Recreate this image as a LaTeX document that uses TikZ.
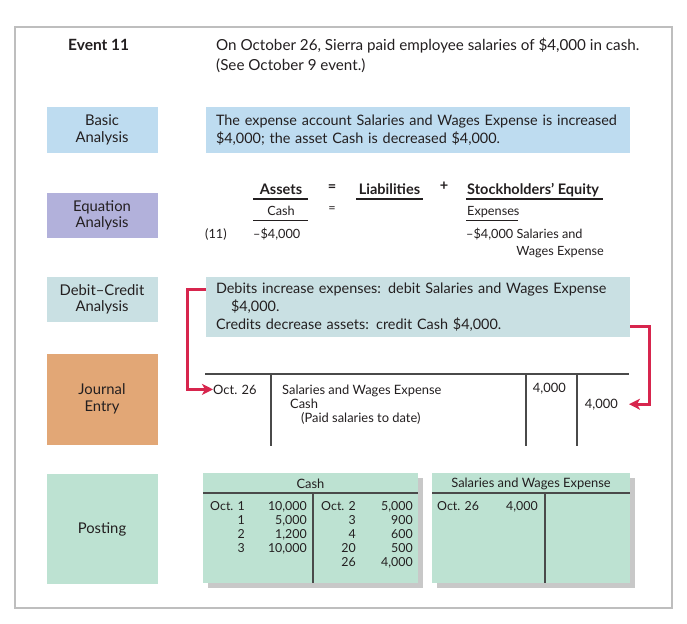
\documentclass[tikz,border=0pt]{standalone}
\usepackage{fontspec}
\setmainfont{Lato}
\usetikzlibrary{arrows.meta}

\definecolor{frameGray}{HTML}{BEBEBE}
\definecolor{basicBlue}{HTML}{BEDCF0}
\definecolor{eqPurple}{HTML}{B2B1DB}
\definecolor{dcTeal}{HTML}{C9E0E3}
\definecolor{jeOrange}{HTML}{E2A776}
\definecolor{postMint}{HTML}{BDE2D2}
\definecolor{arrowRed}{HTML}{D7254D}
\definecolor{ink}{HTML}{231F20}
\definecolor{ruleGray}{HTML}{4A4A4A}
\definecolor{shadowGray}{HTML}{C8C8C8}

\tikzset{
  stagebox/.style={minimum width=111pt, align=center, inner sep=0pt, text=ink,
    font=\fontsize{14.8}{16.5}\selectfont},
  textbox/.style={align=left, inner xsep=10pt, inner ysep=0pt, text=ink,
    text width=404pt, font=\fontsize{14.4}{18}\selectfont},
  bodytext/.style={inner sep=0pt, text=ink, font=\fontsize{15.2}{20}\selectfont},
  eqtext/.style={inner sep=0pt, text=ink, font=\fontsize{12.7}{16}\selectfont},
  eqbold/.style={inner sep=0pt, text=ink, font=\fontsize{14.5}{16}\selectfont\bfseries},
  jtext/.style={inner sep=0pt, text=ink, font=\fontsize{12.9}{14}\selectfont},
  ttext/.style={inner sep=0pt, text=ink, align=right, font=\fontsize{12.4}{14}\selectfont},
  ulrule/.style={draw=ink, line width=1.3pt},
  jrule/.style={draw=ruleGray, line width=1.1pt},
  trule/.style={draw=ruleGray, line width=1.6pt},
  redarrow/.style={draw=arrowRed, line width=3pt,
    -{Stealth[length=11pt, width=11pt, inset=3pt]}},
}

\begin{document}
\begin{tikzpicture}[x=1pt, y=-1pt]
\useasboundingbox (0,0) rectangle (687,623);
\fill[white] (0,0) rectangle (687,623);
% outer frame
\draw[frameGray, line width=1.5pt] (15,27) rectangle (672,608);

% header
\node[bodytext, font=\fontsize{15.5}{20}\selectfont\bfseries, anchor=base west] (event) at (68,51) {Event 11};
\node[bodytext, anchor=base west] (desc1) at (216,51) {On October 26, Sierra paid employee salaries of \$4,000 in cash.};
\node[bodytext, anchor=base west] (desc2) at (216,71) {(See October 9 event.)};

% basic analysis
\node[stagebox, fill=basicBlue, minimum height=46pt] (basicLbl) at (102,130) {Basic\\Analysis};
\node[textbox, fill=basicBlue, minimum height=46pt] (basicTxt) at (418,130)
  {The expense account Salaries and Wages Expense is increased\\\$4,000; the asset Cash is decreased \$4,000.};

% equation analysis
\node[stagebox, fill=eqPurple, minimum height=45pt] (eqLbl) at (102,215.5) {Equation\\Analysis};
\node[eqbold, anchor=base] (assets) at (281,194) {Assets};
\node[eqbold, anchor=base] (eq1) at (332,191) {=};
\node[eqbold, anchor=base] (liab) at (389.5,194) {Liabilities};
\node[eqbold, anchor=base] (plus) at (444,190) {+};
\node[eqbold, anchor=base west] (se) at (467,194) {Stockholders’ Equity};
\draw[ulrule] (253,199) -- (308,199);
\draw[ulrule] (356,199) -- (423,199);
\draw[ulrule] (466,199) -- (603,199);
\node[eqtext, anchor=base] (cash) at (281,215) {Cash};
\node[eqtext, anchor=base] (eq2) at (332,212) {=};
\node[eqtext, anchor=base west] (expenses) at (467,215) {Expenses};
\draw[ulrule] (253,220.5) -- (308,220.5);
\draw[ulrule] (466,220.5) -- (518,220.5);
\node[eqtext, anchor=base west] (evno) at (205,238) {(11)};
\node[eqtext, anchor=base west] (cashAmt) at (253,238) {–\$4,000};
\node[eqtext, anchor=base west] (expAmt) at (466,238) {–\$4,000 Salaries and};
\node[eqtext, anchor=base east] (expName) at (604,255) {Wages Expense};

% debit-credit analysis
\node[stagebox, fill=dcTeal, minimum height=45pt] (dcLbl) at (102,299.5) {Debit–Credit\\Analysis};
\node[textbox, fill=dcTeal, minimum height=60pt] (dcTxt) at (418,307)
  {Debits increase expenses: debit Salaries and Wages Expense\\
   \hspace*{15pt}\$4,000.\\
   Credits decrease assets: credit Cash \$4,000.};

% journal entry
\node[stagebox, fill=jeOrange, minimum height=91pt] (jeLbl) at (102,399) {Journal\\Entry};
\draw[jrule] (205,374) -- (629,374);
\draw[jrule] (271,374) -- (271,446);
\draw[jrule] (526,374) -- (526,446);
\draw[jrule] (577,374) -- (577,446);
\node[jtext, anchor=base west] (jdate) at (213,394) {Oct. 26};
\node[jtext, anchor=base west] (jdebitAcct) at (282,394) {Salaries and Wages Expense};
\node[jtext, anchor=base west] (jcreditAcct) at (290,408) {Cash};
\node[jtext, anchor=base west] (jmemo) at (301,422) {(Paid salaries to date)};
\node[jtext, anchor=base east] (jdebit) at (566,392) {4,000};
\node[jtext, anchor=base east] (jcredit) at (618,408) {4,000};
\coordinate (creditTip) at ([xshift=11pt]jcredit.east);

% red connectors from the analysis to the journal entry
\draw[redarrow] ([yshift=-13pt]dcTxt.north west) -- ++(-18,0) |- (jdate.west);
\draw[redarrow] ([yshift=11pt]dcTxt.south east) -- ++(19,0) |- (creditTip);

% posting
\node[stagebox, fill=postMint, minimum height=110pt] (postLbl) at (102,529) {Posting};

% Cash T-account
\fill[shadowGray] (208,478) rectangle (423,588);
\node[fill=postMint, minimum width=215pt, minimum height=110pt, inner sep=0pt, anchor=north west] (cashAcct) at (203,473) {};
\node[jtext] (cashTitle) at (310.5,484) {Cash};
\draw[trule] (203,493) -- (418,493);
\draw[trule] (313,493) -- (313,583);
\node[ttext, anchor=north east] (cashDrDate) at (245,501) {Oct. 1\\1\\2\\3};
\node[ttext, anchor=north east] (cashDrAmt) at (307,501) {10,000\\5,000\\1,200\\10,000};
\node[ttext, anchor=north east] (cashCrDate) at (356,501) {Oct. 2\\3\\4\\20\\26};
\node[ttext, anchor=north east] (cashCrAmt) at (413,501) {5,000\\900\\600\\500\\4,000};

% Salaries and Wages Expense T-account
\fill[shadowGray] (437,478) rectangle (635,588);
\node[fill=postMint, minimum width=198pt, minimum height=110pt, inner sep=0pt, anchor=north west] (salAcct) at (432,473) {};
\node[jtext] (salTitle) at (531,484) {Salaries and Wages Expense};
\draw[trule] (432,493) -- (630,493);
\draw[trule] (545,493) -- (545,583);
\node[ttext, anchor=north west] (salDrDate) at (437,501) {Oct. 26};
\node[ttext, anchor=north east] (salDrAmt) at (538,501) {4,000};
\end{tikzpicture}
\end{document}
